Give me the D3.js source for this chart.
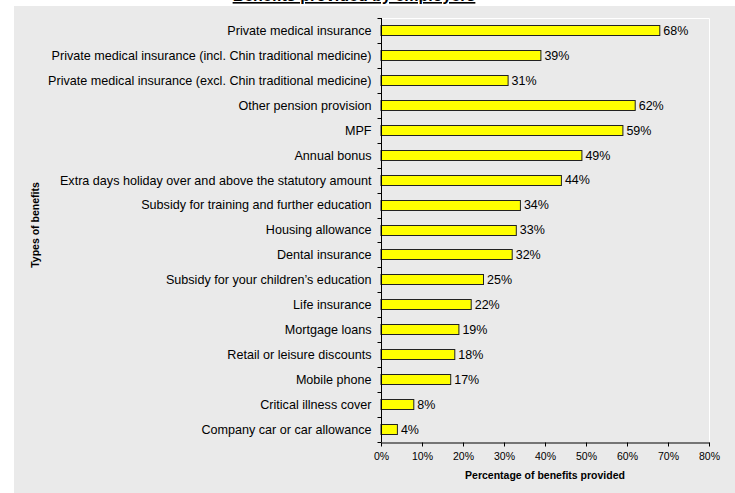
<!DOCTYPE html>
<html>
<head>
<meta charset="utf-8">
<script src="https://cdn.jsdelivr.net/npm/d3@7"></script>
<style>
  html, body { margin: 0; padding: 0; background: #ffffff; }
  svg { display: block; }
  text { font-family: Arial, "Liberation Sans", sans-serif; fill: #000; }
</style>
</head>
<body>
<svg id="chart" width="735" height="493"></svg>
<script>
// Benefit types, top to bottom
const categories = [
  "Private medical insurance",
  "Private medical insurance (incl. Chin traditional medicine)",
  "Private medical insurance (excl. Chin traditional medicine)",
  "Other pension provision",
  "MPF",
  "Annual bonus",
  "Extra days holiday over and above the statutory amount",
  "Subsidy for training and further education",
  "Housing allowance",
  "Dental insurance",
  "Subsidy for your children\u2019s education",
  "Life insurance",
  "Mortgage loans",
  "Retail or leisure discounts",
  "Mobile phone",
  "Critical illness cover",
  "Company car or car allowance"
];

// Share of employers providing each benefit (%)
const values = [68, 39, 31, 62, 59, 49, 44, 34, 33, 32, 25, 22, 19, 18, 17, 8, 4];

// Percentage axis ticks
const xTicks = [0, 10, 20, 30, 40, 50, 60, 70, 80];

const titleText = "Benefits provided by employers";
const xAxisTitle = "Percentage of benefits provided";
const yAxisTitle = "Types of benefits";

const svg = d3.select("#chart");
const W = 735, H = 493;
const plot = { left: 381, right: 709, top: 18, bottom: 442 };

// Chart background panel
svg.append("rect")
  .attr("x", 14).attr("y", 6)
  .attr("width", W - 14).attr("height", H - 6)
  .attr("fill", "#eaeaea");

// Title (mostly above the panel)
svg.append("text")
  .attr("x", 354).attr("y", 1)
  .attr("text-anchor", "middle")
  .style("font-size", "16px")
  .style("font-weight", "bold")
  .style("text-decoration", "underline")
  .text(titleText);

const x = d3.scaleLinear().domain([0, 80]).range([plot.left, plot.right]);
const yb = d3.scaleBand().domain(categories).range([plot.top, plot.bottom]);
const barH = 11;

// Plot area border (top and right)
svg.append("path")
  .attr("d", `M${plot.left},${plot.top + 0.5}H${plot.right + 0.5}V${plot.bottom}`)
  .attr("fill", "none")
  .attr("stroke", "#ffffff")
  .attr("stroke-width", 1);

// Bars
svg.append("g").selectAll("rect")
  .data(values)
  .join("rect")
  .attr("x", x(0))
  .attr("y", (d, i) => Math.round(yb(categories[i]) + (yb.bandwidth() - barH) / 2) + 0.5)
  .attr("width", d => x(d) - x(0))
  .attr("height", barH - 1)
  .attr("fill", "#ffff00")
  .attr("stroke", "#222222")
  .attr("stroke-width", 1);

// Value labels
svg.append("g").selectAll("text")
  .data(values)
  .join("text")
  .attr("x", d => x(d) + 3.5)
  .attr("y", (d, i) => yb(categories[i]) + yb.bandwidth() / 2)
  .attr("dy", "0.35em")
  .style("font-size", "12.5px")
  .text(d => d + "%");

// Category axis with ticks on band boundaries
const yAxisG = svg.append("g").attr("transform", `translate(${plot.left + 0.5},0)`);
yAxisG.append("line")
  .attr("x1", 0).attr("x2", 0)
  .attr("y1", plot.top).attr("y2", plot.bottom)
  .attr("stroke", "#000");
yAxisG.selectAll("line.tick")
  .data(d3.range(categories.length + 1))
  .join("line")
  .attr("class", "tick")
  .attr("x1", -4).attr("x2", 0)
  .attr("y1", i => Math.round(plot.top + i * yb.step()) + 0.5)
  .attr("y2", i => Math.round(plot.top + i * yb.step()) + 0.5)
  .attr("stroke", "#000");
yAxisG.selectAll("text")
  .data(categories)
  .join("text")
  .attr("x", -10)
  .attr("y", d => yb(d) + yb.bandwidth() / 2)
  .attr("dy", "0.35em")
  .attr("text-anchor", "end")
  .style("font-size", "12.6px")
  .text(d => d);

// Percentage axis
const xAxis = d3.axisBottom(x)
  .tickValues(xTicks)
  .tickFormat(d => d + "%")
  .tickSizeInner(4)
  .tickSizeOuter(0)
  .tickPadding(6);
const xAxisG = svg.append("g")
  .attr("transform", `translate(0,${plot.bottom + 0.5})`)
  .call(xAxis);
xAxisG.select(".domain").attr("stroke", "#000");
xAxisG.selectAll(".tick line").attr("stroke", "#000");
xAxisG.selectAll(".tick text")
  .style("font-family", "Arial, 'Liberation Sans', sans-serif")
  .style("font-size", "10.5px")
  .attr("fill", "#222");

// Axis titles
svg.append("text")
  .attr("x", (plot.left + plot.right) / 2)
  .attr("y", 479)
  .attr("text-anchor", "middle")
  .style("font-size", "10.5px")
  .style("font-weight", "bold")
  .text(xAxisTitle);

svg.append("text")
  .attr("transform", `translate(39,${(plot.top + plot.bottom) / 2 - 5}) rotate(-90)`)
  .attr("text-anchor", "middle")
  .style("font-size", "10.5px")
  .style("font-weight", "bold")
  .text(yAxisTitle);
</script>
</body>
</html>
